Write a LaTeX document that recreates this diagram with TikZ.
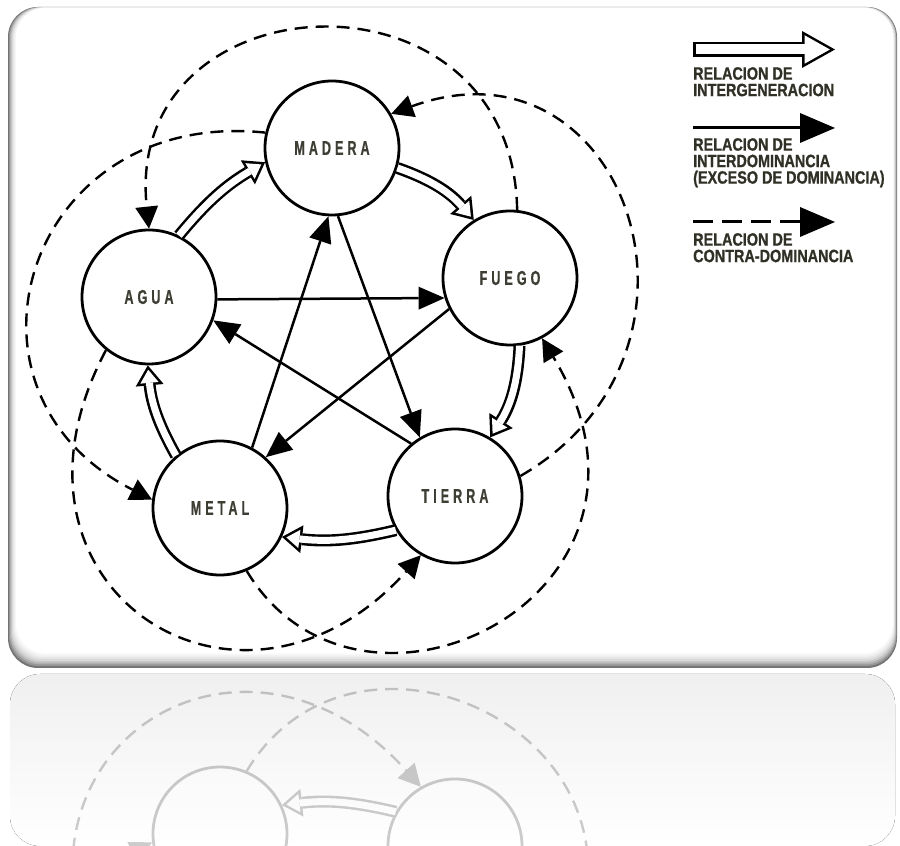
\documentclass[tikz,border=0pt]{standalone}
\usepackage{fontspec}
\usetikzlibrary{arrows.meta}
\newfontfamily\etiqfont[FakeStretch=0.63,LetterSpace=20,BoldFeatures={FakeBold=0.6}]{Liberation Sans}
\newfontfamily\leyfont[FakeStretch=0.81,BoldFeatures={FakeBold=0.8}]{Liberation Sans}
\definecolor{etiq}{RGB}{62,62,52}
\definecolor{leytxt}{RGB}{48,48,38}

\tikzset{
    elemento/.style = {circle, draw, line width=2.8pt, fill=white, minimum size=134pt, inner sep=0pt, font=\etiqfont\bfseries\fontsize{20}{20}\selectfont, text=etiq},
    dom/.style      = {line width=2.5pt, -{Triangle[length=26pt,width=23pt,line width=0pt]}},
    contra/.style   = {line width=2.4pt, dash pattern=on 13pt off 8pt, -{Triangle[length=22pt,width=23pt,line width=0pt]}},
    gen/.style      = {line width=12pt, -{Triangle[length=20pt,width=28pt,line width=0pt]},
                       postaction={draw=white, line width=7pt, shorten >=4.4pt, -{Triangle[length=13.1pt,width=18.3pt,line width=0pt]}}},
    genley/.style   = {line width=15pt, -{Triangle[length=33pt,width=37pt,line width=0pt]},
                       postaction={draw=white, line width=10pt, shorten <=2.5pt, shorten >=5.1pt, -{Triangle[length=25.4pt,width=28.5pt,line width=0pt]}}},
    domley/.style   = {line width=3pt, -{Triangle[length=35pt,width=30pt,line width=0pt]}},
    contraley/.style= {line width=3pt, dash pattern=on 20pt off 9pt, -{Triangle[length=35pt,width=30pt,line width=0pt]}},
    leyenda/.style  = {anchor=north west, inner sep=0pt, align=left, font=\leyfont\bfseries\fontsize{17.8}{16.5}\selectfont, text=leytxt}
}

% label of an element (left empty in the reflection)
\newcommand\etq[1]{#1}

% the five elements and their relations
\newcommand\cicloelementos{%
    % Elements
    \node (madera) [elemento] at (332,698) {\etq{MADERA}};
    \node (fuego)  [elemento] at (510,568) {\etq{FUEGO}};
    \node (tierra) [elemento] at (455,350) {\etq{TIERRA}};
    \node (metal)  [elemento] at (220,338) {\etq{METAL}};
    \node (agua)   [elemento] at (149,549) {\etq{AGUA}};
    % Intergeneracion
    \draw [gen] (agua.64)    to[bend left=10] (madera.192);
    \draw [gen] (madera.-17) to[bend left=15] (fuego.122);
    \draw [gen] (fuego.-82)  to[bend left=15] (tierra.59);
    \draw [gen] (tierra.210) to[bend left=10] (metal.-25);
    \draw [gen] (metal.130)  to[bend left=12] (agua.-91);
    % Interdominancia
    \draw [dom] (agua.-2)    -- (fuego.197);
    \draw [dom] (fuego.207)  -- (metal.48);
    \draw [dom] (metal.62)   -- (madera.267);
    \draw [dom] (madera.275) -- (tierra.121);
    \draw [dom] (tierra.130) -- (agua.-20);
    % Contra-dominancia
    \draw [contra] (fuego.84)   to[out=91,in=96,distance=254pt] (agua.90);
    \draw [contra] (tierra.17)  to[out=30,in=20,distance=250pt] (madera.30);
    \draw [contra] (metal.-67)  to[out=-59,in=-59,out distance=220pt,in distance=300pt] (fuego.-62);
    \draw [contra] (agua.231)   to[out=242,in=228,distance=270pt] (tierra.240);
    \draw [contra] (madera.167) to[out=174,in=153,distance=240pt] (metal.173);
}

\begin{document}
\begin{tikzpicture}[x=1pt, y=1pt]
\useasboundingbox (0,0) rectangle (900,846);

% Frame
\fill [black!55, rounded corners=30pt] (8,178) rectangle (897,839);
\foreach \k/\c in {1/42,2/31,3/22,4/15,5/10,6/6,7/3,8/0}
    \fill [black!\c, rounded corners=30pt] (8+\k,178+1.8*\k) rectangle (897-0.5*\k,839-0.1*\k);

% Reflection ground
\fill [rounded corners=30pt, top color=black!6, bottom color=white] (10,0) rectangle (895,172);

\cicloelementos

% Legend
\coordinate (gen1) at (693,796.5);
\coordinate (gen2) at (835,796.5);
\draw [genley] (gen1) -- (gen2);
\node (leygen) [leyenda] at (693,779) {RELACION DE\\INTERGENERACION};

\coordinate (dom1) at (693,718);
\coordinate (dom2) at (835,718);
\draw [domley] (dom1) -- (dom2);
\node (leydom) [leyenda] at (693,708) {RELACION DE\\INTERDOMINANCIA\\(EXCESO DE DOMINANCIA)};

\coordinate (con1) at (693,624);
\coordinate (con2) at (835,624);
\draw [contraley] (con1) -- (con2);
\node (leycon) [leyenda] at (693,613) {RELACION DE\\CONTRA-DOMINANCIA};

% Reflection
\begin{scope}
    \renewcommand\etq[1]{}
    \clip (10,0) rectangle (895,172);
    \begin{scope}[shift={(0,350)}, yscale=-1, transform shape, opacity=0.2, transparency group]
        \cicloelementos
    \end{scope}
\end{scope}

\end{tikzpicture}
\end{document}
